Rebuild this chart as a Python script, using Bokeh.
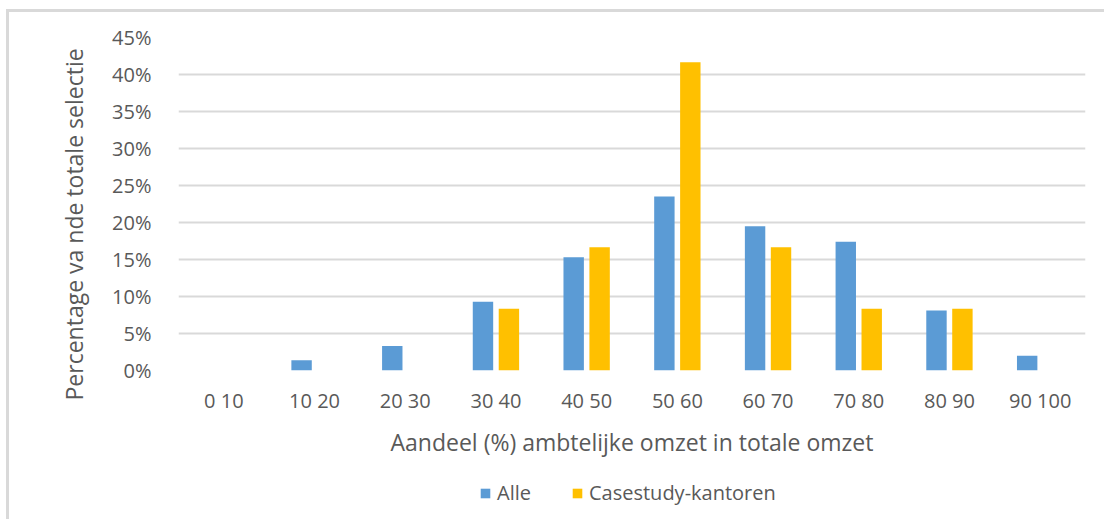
from bokeh.plotting import figure
from bokeh.layouts import column
from bokeh.models import (FactorRange, FixedTicker, NumeralTickFormatter, Legend, LegendItem,
                          ColumnDataSource, Title)
from bokeh.transform import dodge
from bokeh.embed import file_html
from bokeh.resources import INLINE

categories = ["0 10", "10 20", "20 30", "30 40", "40 50", "50 60", "60 70", "70 80", "80 90", "90 100"]
alle = [0.0, 0.014, 0.033, 0.093, 0.153, 0.235, 0.195, 0.174, 0.081, 0.020]
casestudy = [0.0, 0.0, 0.0, 0.0833, 0.1667, 0.4167, 0.1667, 0.0833, 0.0833, 0.0]
y_ticks = [0, 0.05, 0.10, 0.15, 0.20, 0.25, 0.30, 0.35, 0.40, 0.45]
series_names = ["Alle", "Casestudy-kantoren"]
colors = ["#5b9bd5", "#ffc000"]

FONT = "Open Sans"
TXT = "#595959"

src = ColumnDataSource(dict(cat=categories, alle=alle, cs=casestudy))

fig = figure(x_range=FactorRange(*categories, range_padding=0), y_range=(0, 0.45),
             frame_width=907, frame_height=333,
             min_border_left=169, min_border_right=19, min_border_top=25, min_border_bottom=95,
             output_backend="svg", toolbar_location=None)
fig.outline_line_color = None

fig.vbar(x=dodge("cat", -0.143, range=fig.x_range), top="alle", width=0.225, source=src,
         fill_color=colors[0], line_color=None)
fig.vbar(x=dodge("cat", 0.143, range=fig.x_range), top="cs", width=0.225, source=src,
         fill_color=colors[1], line_color=None)

fig.yaxis.ticker = FixedTicker(ticks=y_ticks)
fig.yaxis.formatter = NumeralTickFormatter(format="0%")
for ax in (fig.xaxis[0], fig.yaxis[0]):
    ax.axis_line_color = None
    ax.major_tick_line_color = None
    ax.minor_tick_line_color = None
    ax.major_label_text_font = FONT
    ax.major_label_text_color = TXT
    ax.major_label_text_font_size = "20px"

fig.yaxis.major_label_standoff = 21
fig.xaxis.major_label_standoff = 10
fig.xaxis.axis_label = "Aandeel (%) ambtelijke omzet in totale omzet"
fig.xaxis.axis_label_standoff = 9
fig.xaxis.axis_label_text_font = FONT
fig.xaxis.axis_label_text_color = TXT
fig.xaxis.axis_label_text_font_size = "23px"
fig.xaxis.axis_label_text_font_style = "normal"

ytitle = Title(text="Percentage va nde totale selectie", align="left", offset=-30,
               text_font=FONT, text_color=TXT, text_font_size="23px",
               text_font_style="normal", standoff=39)
fig.add_layout(ytitle, "left")

fig.xgrid.grid_line_color = None
fig.ygrid.grid_line_color = "#d9d9d9"
fig.ygrid.grid_line_width = 2
fig.ygrid.ticker = FixedTicker(ticks=y_ticks)

# legend strip (its frame is aligned with the main plot frame by the column layout)
leg = figure(width=1095, height=54, min_border=0, output_backend="svg", toolbar_location=None,
             x_range=(0, 1), y_range=(0, 1))
leg.outline_line_color = None
leg.xaxis.visible = False
leg.yaxis.visible = False
leg.grid.visible = False
items = []
for name, c in zip(series_names, colors):
    r = leg.vbar(x=[-1], top=[0], width=0, fill_color=c, line_color=None)
    items.append(LegendItem(label=name, renderers=[r]))
legend = Legend(items=items, orientation="horizontal", location=(301, 13),
                label_text_font=FONT, label_text_color=TXT, label_text_font_size="20px",
                glyph_width=12, glyph_height=12, spacing=40, padding=0, margin=0,
                border_line_color=None, background_fill_alpha=0, label_standoff=6)
leg.add_layout(legend, "center")

p = column(fig, leg, spacing=0,
           styles={"border-top": "3px solid #d9d9d9", "border-left": "3px solid #d9d9d9",
                   "margin-left": "6px", "margin-top": "9px"})

open("out.html", "w").write(file_html(p, INLINE))
